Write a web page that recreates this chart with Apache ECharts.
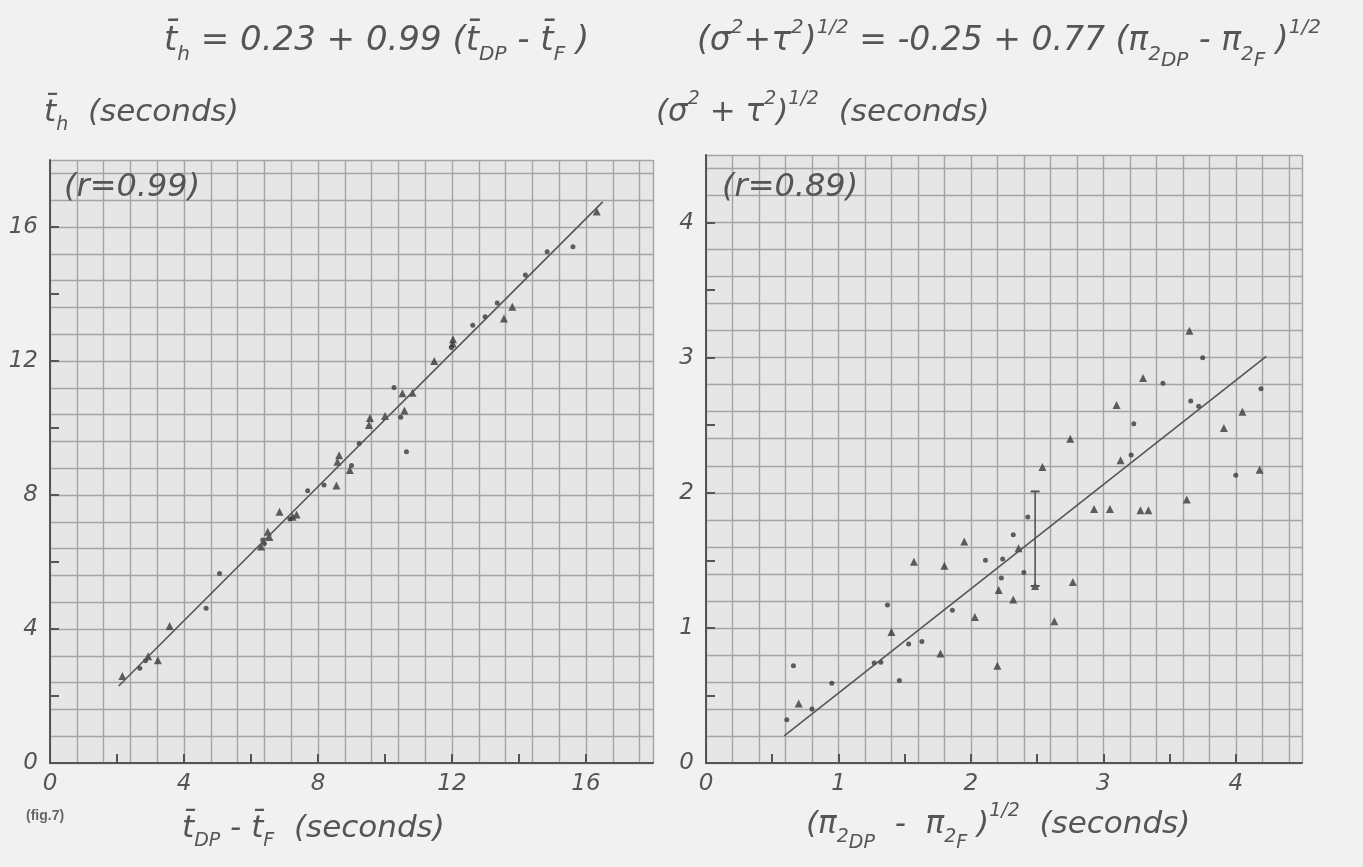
<!DOCTYPE html>
<html>
<head>
<meta charset="utf-8">
<script src="https://cdn.jsdelivr.net/npm/echarts@6/dist/echarts.min.js"></script>
<style>
  html, body { margin: 0; padding: 0; background: #f1f1f1; }
  #graph { width: 1363px; height: 867px; }
</style>
</head>
<body>
<div id="graph"></div>
<script>
// left panel: t_h against t_DP - t_F
let leftTri = [[2.16,2.60],[2.93,3.19],[3.22,3.07],[3.57,4.09],[6.30,6.46],[6.50,6.90],[6.55,6.75],[6.85,7.50],
	[7.24,7.35],[7.36,7.42],[8.55,8.28],[8.58,8.99],[8.63,9.19],[8.95,8.75],[9.52,10.09],[9.55,10.30],[10.00,10.36],
	[10.58,10.52],[10.52,11.04],[10.82,11.05],[11.47,12.00],[12.02,12.52],[12.03,12.65],[13.55,13.27],[13.80,13.62],[16.32,16.46]];
let leftDot = [[2.68,2.83],[2.85,3.05],[4.66,4.62],[5.06,5.66],[6.35,6.66],[6.40,6.55],[7.16,7.28],[7.69,8.13],[8.18,8.30],
	[9.00,8.88],[9.23,9.54],[10.27,11.21],[10.47,10.32],[10.64,9.29],[11.98,12.40],[12.62,13.07],[12.99,13.32],[13.35,13.73],
	[14.19,14.57],[14.84,15.26],[15.61,15.41]];
let leftFit = [[2.05,2.30],[16.5,16.75]];

// right panel: (sigma^2+tau^2)^1/2 against (pi2DP - pi2F)^1/2
let rightTri = [[0.70,0.44],[1.40,0.97],[1.57,1.49],[1.77,0.81],[1.80,1.46],[1.95,1.64],[2.03,1.08],[2.20,0.72],[2.21,1.28],
	[2.32,1.21],[2.36,1.59],[2.485,1.31],[2.54,2.19],[2.63,1.05],[2.75,2.40],[2.77,1.34],[2.93,1.88],[3.05,1.88],[3.10,2.65],
	[3.13,2.24],[3.28,1.87],[3.34,1.87],[3.30,2.85],[3.63,1.95],[3.65,3.20],[3.91,2.48],[4.05,2.60],[4.18,2.17]];
let rightDot = [[0.61,0.32],[0.66,0.72],[0.80,0.40],[0.95,0.59],[1.27,0.74],[1.32,0.745],[1.37,1.17],[1.46,0.61],[1.53,0.88],
	[1.63,0.90],[1.86,1.13],[2.11,1.50],[2.23,1.37],[2.24,1.51],[2.32,1.69],[2.40,1.41],[2.43,1.82],[3.21,2.28],[3.23,2.51],
	[3.45,2.81],[3.66,2.68],[3.72,2.64],[3.75,3.00],[4.00,2.13],[4.19,2.77]];
let rightFit = [[0.59,0.20],[4.23,3.01]];
let rightBar = [[2.485,1.31],[2.485,2.01]];

let ink = '#555';
let paperLine = '#a4a4a4';
let font = 'DejaVu Sans';

function makeRich(size) {
	let small = Math.round(size * 0.6);
	let base = { fontStyle: 'italic', fontWeight: 'normal', color: ink, fontFamily: font };
	return {
		i: Object.assign({ fontSize: size, lineHeight: size + 14, verticalAlign: 'middle' }, base),
		sb: Object.assign({ fontSize: small, lineHeight: small + 1, verticalAlign: 'bottom' }, base),
		sb2: Object.assign({ fontSize: small, lineHeight: small - 4, verticalAlign: 'bottom', padding: [0, 0, -6, 0] }, base),
		sp: Object.assign({ fontSize: small, lineHeight: small + 1, verticalAlign: 'top' }, base)
	};
}

function textBox(text, left, top, size) {
	return { text: text, left: left, top: top, padding: 0, textStyle: { fontWeight: 'normal', rich: makeRich(size) } };
}

let titles = [
	textBox('{i|t\u0304}{sb|h}{i| = 0.23 + 0.99 (}{i|t\u0304}{sb|DP}{i| - }{i|t\u0304}{sb|F}{i| )}', 164, 17, 34),
	textBox('{i|(\u03c3}{sp|2}{i|+\u03c4}{sp|2}{i|)}{sp|1/2}{i| = -0.25 + 0.77 (\u03c0}{sb|2}{sb2|DP}{i| - \u03c0}{sb|2}{sb2|F}{i| )}{sp|1/2}', 697, 18, 33),
	textBox('{i|t\u0304}{sb|h}{i|  (seconds)}', 44, 90, 31),
	textBox('{i|(\u03c3}{sp|2}{i| + \u03c4}{sp|2}{i|)}{sp|1/2}{i|  (seconds)}', 656, 90, 31),
	textBox('{i|t\u0304}{sb|DP}{i| - t\u0304}{sb|F}{i|  (seconds)}', 182, 806, 31),
	textBox('{i|(\u03c0}{sb|2}{sb2|DP}{i|  -  \u03c0}{sb|2}{sb2|F}{i| )}{sp|1/2}{i|  (seconds)}', 806, 802, 31),
	{ text: '(r=0.99)', left: 64, top: 172, padding: 0, textStyle: { fontSize: 32, fontStyle: 'italic', fontWeight: 'normal', color: ink, fontFamily: font } },
	{ text: '(r=0.89)', left: 722, top: 172, padding: 0, textStyle: { fontSize: 32, fontStyle: 'italic', fontWeight: 'normal', color: ink, fontFamily: font } },
	{ text: '(fig.7)', left: 26, top: 809, padding: 0, textStyle: { fontSize: 14, fontWeight: 'bold', color: '#666', fontFamily: 'Liberation Sans' } }
];

function mainAxis(gridIndex, max, interval, labelEvery, isX) {
	return {
		type: 'value', gridIndex: gridIndex, min: 0, max: max, interval: interval,
		position: isX ? 'bottom' : 'left',
		axisLine: { show: true, onZero: false, lineStyle: { color: ink, width: 2 } },
		axisTick: { show: true, inside: true, length: 9, lineStyle: { color: ink, width: 2 } },
		axisLabel: {
			color: ink, fontSize: 23, fontStyle: 'italic', fontFamily: font, margin: isX ? 10 : 12,
			showMaxLabel: false,
			formatter: function (v) { return Math.abs(v / labelEvery - Math.round(v / labelEvery)) < 1e-6 ? String(v) : ''; }
		},
		splitLine: { show: false }
	};
}

function paperAxis(gridIndex, max, step, isX) {
	return {
		type: 'value', gridIndex: gridIndex, min: 0, max: max, interval: step,
		position: isX ? 'top' : 'right',
		axisLine: { show: false }, axisTick: { show: false }, axisLabel: { show: false },
		splitLine: { show: true, lineStyle: { color: paperLine, width: 1.4 } }
	};
}

let chart = echarts.init(document.getElementById('graph'), null, { width: 1363, height: 867 });

let option = {
	backgroundColor: '#f1f1f1',
	animation: false,
	title: titles,
	grid: [
		{ left: 50, top: 160, width: 603, height: 603, show: true, backgroundColor: '#e6e6e6', borderWidth: 0 },
		{ left: 706, top: 155, width: 596, height: 608, show: true, backgroundColor: '#e6e6e6', borderWidth: 0 }
	],
	xAxis: [
		paperAxis(0, 18, 0.8, true),
		mainAxis(0, 18, 2, 4, true),
		paperAxis(1, 4.5, 0.2, true),
		mainAxis(1, 4.5, 0.5, 1, true)
	],
	yAxis: [
		paperAxis(0, 18, 0.8, false),
		mainAxis(0, 18, 2, 4, false),
		paperAxis(1, 4.5, 0.2, false),
		mainAxis(1, 4.5, 0.5, 1, false)
	],
	series: [
		{ type: 'line', xAxisIndex: 1, yAxisIndex: 1, data: leftFit, symbol: 'none', lineStyle: { color: ink, width: 1.6 } },
		{ type: 'scatter', xAxisIndex: 1, yAxisIndex: 1, data: leftTri, symbol: 'triangle', symbolSize: 8, itemStyle: { color: '#3a3a3a' } },
		{ type: 'scatter', xAxisIndex: 1, yAxisIndex: 1, data: leftDot, symbol: 'circle', symbolSize: 5, itemStyle: { color: '#3a3a3a' } },
		{ type: 'line', xAxisIndex: 3, yAxisIndex: 3, data: rightFit, symbol: 'none', lineStyle: { color: ink, width: 1.6 } },
		{ type: 'line', xAxisIndex: 3, yAxisIndex: 3, data: rightBar, symbol: 'rect', symbolSize: [9, 2], itemStyle: { color: ink }, lineStyle: { color: ink, width: 1.6 } },
		{ type: 'scatter', xAxisIndex: 3, yAxisIndex: 3, data: rightTri, symbol: 'triangle', symbolSize: 8, itemStyle: { color: '#3a3a3a' } },
		{ type: 'scatter', xAxisIndex: 3, yAxisIndex: 3, data: rightDot, symbol: 'circle', symbolSize: 5, itemStyle: { color: '#3a3a3a' } }
	]
};

chart.setOption(option);
</script>
</body>
</html>
